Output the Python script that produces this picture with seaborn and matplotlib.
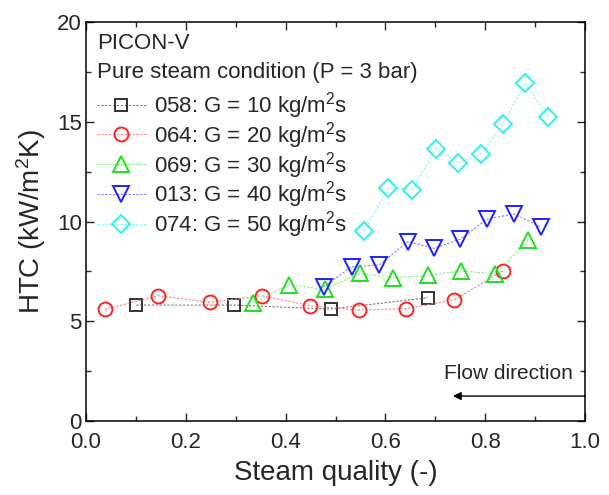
import matplotlib
matplotlib.use("Agg")
import matplotlib.pyplot as plt
from matplotlib.ticker import MultipleLocator, FormatStrFormatter
import seaborn as sns

# steam quality / HTC values
x_058 = [0.101, 0.297, 0.490, 0.685]
y_058 = [5.81, 5.81, 5.61, 6.18]

x_064 = [0.038, 0.145, 0.249, 0.352, 0.449, 0.546, 0.641, 0.737, 0.835]
y_064 = [5.60, 6.28, 5.95, 6.28, 5.78, 5.56, 5.63, 6.07, 7.52]

x_069 = [0.335, 0.406, 0.478, 0.548, 0.616, 0.685, 0.751, 0.820, 0.886]
y_069 = [5.93, 6.82, 6.60, 7.40, 7.18, 7.30, 7.53, 7.37, 9.07]

x_013 = [0.476, 0.532, 0.587, 0.645, 0.697, 0.749, 0.804, 0.858, 0.912]
y_013 = [6.73, 7.73, 7.82, 8.99, 8.66, 9.11, 10.13, 10.38, 9.71]

x_074 = [0.557, 0.606, 0.653, 0.701, 0.746, 0.791, 0.835, 0.880, 0.926]
y_074 = [9.52, 11.70, 11.58, 13.65, 12.95, 13.38, 14.88, 16.92, 15.25]

labels = [
    "058: G = 10 kg/m$^2$s",
    "064: G = 20 kg/m$^2$s",
    "069: G = 30 kg/m$^2$s",
    "013: G = 40 kg/m$^2$s",
    "074: G = 50 kg/m$^2$s",
]

series = [
    (x_058, y_058, "s", 8.5, "#333333", "#777777"),
    (x_064, y_064, "o", 10.0, "#ff2020", "#ff8080"),
    (x_069, y_069, "^", 11.5, "#20e020", "#80f080"),
    (x_013, y_013, "v", 11.5, "#2020ff", "#8080ff"),
    (x_074, y_074, "D", 9.0, "#30f0f0", "#80f8f8"),
]

sns.set_style("ticks")
plt.rcParams["font.family"] = ["Liberation Sans", "DejaVu Sans"]
plt.rcParams["mathtext.fontset"] = "custom"
plt.rcParams["mathtext.rm"] = "Liberation Sans"
plt.rcParams["mathtext.it"] = "Liberation Sans"
plt.rcParams["mathtext.default"] = "regular"

fig = plt.figure(figsize=(6.09, 4.95), dpi=100)
ax = fig.add_axes([0.141, 0.1495, 0.82, 0.806])

for (xs, ys, m, ms, c, lc), lab in zip(series, labels):
    sns.lineplot(
        x=xs, y=ys, ax=ax, color=lc, linestyle=(0, (2, 1.5)), linewidth=0.8,
        marker=m, markersize=ms, markerfacecolor="none", markeredgecolor=c,
        markeredgewidth=1.4, label=lab,
    )

ax.set_xlim(0, 1.0)
ax.set_ylim(0, 20)
ax.xaxis.set_major_locator(MultipleLocator(0.2))
ax.xaxis.set_minor_locator(MultipleLocator(0.1))
ax.yaxis.set_major_locator(MultipleLocator(5))
ax.yaxis.set_minor_locator(MultipleLocator(2.5))
ax.xaxis.set_major_formatter(FormatStrFormatter("%.1f"))
ax.tick_params(which="both", direction="in", top=True, right=True, width=1.0,
               labelsize=16)
ax.tick_params(axis="x", pad=8)
ax.tick_params(axis="y", pad=3)
ax.tick_params(which="major", length=6)
ax.tick_params(which="minor", length=3.5)
for s in ax.spines.values():
    s.set_linewidth(1.1)
    s.set_color("black")

ax.set_xlabel("Steam quality (-)", fontsize=20, labelpad=5)
ax.set_ylabel("HTC (kW/m$^2$K)", fontsize=20, labelpad=6)

leg = ax.legend(
    title="PICON-V\nPure steam condition (P = 3 bar)", title_fontsize=16,
    fontsize=16, loc="upper left", frameon=False, alignment="left",
    handlelength=2.2, handletextpad=0.35, labelspacing=-0.05,
    borderaxespad=0.1, borderpad=0.4,
)
leg.get_title().set_linespacing(1.5)
# wider gap between the title lines and the first entry
leg._legend_box.sep = 5

ax.annotate("", xy=(0.735, 1.25), xytext=(1.0, 1.25),
            arrowprops=dict(arrowstyle="-|>", color="black", lw=1.0,
                            mutation_scale=12, shrinkA=0, shrinkB=0))
ax.text(0.975, 2.4, "Flow direction", fontsize=15, ha="right", va="center")

fig.savefig("out.png", dpi=100)
